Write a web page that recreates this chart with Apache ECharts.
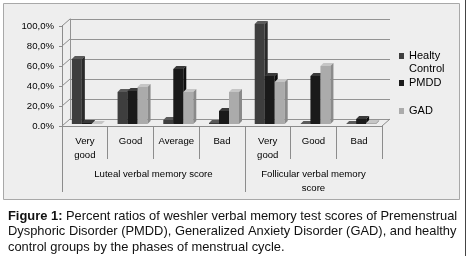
<!DOCTYPE html>
<html><head><meta charset="utf-8">
<script src="https://cdn.jsdelivr.net/npm/echarts@6/dist/echarts.min.js"></script>
<style>html,body{margin:0;padding:0;background:#fff}#c{width:467px;height:256px}</style>
</head><body><div id="c"></div>
<script>
// ---- data ----
var categories = ['Very\ngood', 'Good', 'Average', 'Bad', 'Very\ngood', 'Good', 'Bad'];
var groupLabels = ['Luteal verbal memory score', 'Follicular verbal memory\nscore'];
var groupCenters = [2, 5.5];
var groupBounds = [0, 4];
var seriesNames = ['Healty Control', 'PMDD', 'GAD'];
var legendLabels = ['Healty', 'PMDD', 'GAD'];
var healthyControl = [65, 32, 4, 1, 100, 0, 0];
var pmdd = [1, 33, 55, 13, 48, 48, 5];
var gad = [0, 37, 32, 32, 42, 58, 1];
var yTicks = [0, 20, 40, 60, 80, 100];
var yTickLabels = ['0.0%', '20,0%', '40,0%', '60,0%', '80,0%', '100,0%'];

// ---- styles ----
var FONT = 'Liberation Sans';
var AXIS_FS = 9.6;
var faceColors = [
  {front: '#3e3e3e', top: '#5a5a5a', side: '#2a2a2a'},
  {front: '#1a1a1a', top: '#3a3a3a', side: '#0e0e0e'},
  {front: '#ababab', top: '#c6c6c6', side: '#8a8a8a'}
];
var WALL_DX = 8, WALL_DY = -7;
var BAR_DX = 2, BAR_DY = -2, BAR_D = 3, BAR_W = 10;

var chart = echarts.init(document.getElementById('c'), null, {renderer: 'canvas'});

function barRender(sIdx) {
  return function (params, api) {
    var ci = api.value(0), v = api.value(1);
    var base = api.coord([ci, 0]);
    var top = api.coord([ci, v]);
    var x0 = base[0] - 1.5 * BAR_W + sIdx * BAR_W + BAR_DX;
    var yB = base[1] + BAR_DY, yT = top[1] + BAR_DY;
    var c = faceColors[sIdx];
    return {
      type: 'group',
      children: [
        {type: 'rect', shape: {x: x0, y: yT, width: BAR_W, height: Math.max(yB - yT, 0)}, style: {fill: c.front}},
        {type: 'polygon', shape: {points: [[x0, yT], [x0 + BAR_D, yT - BAR_D], [x0 + BAR_W + BAR_D, yT - BAR_D], [x0 + BAR_W, yT]]}, style: {fill: c.top}},
        {type: 'polygon', shape: {points: [[x0 + BAR_W, yT], [x0 + BAR_W + BAR_D, yT - BAR_D], [x0 + BAR_W + BAR_D, yB - BAR_D], [x0 + BAR_W, yB]]}, style: {fill: c.side}}
      ]
    };
  };
}

function seriesData(arr) { return arr.map(function (v, i) { return [i, v]; }); }

var wallData = yTicks.map(function (t) { return [0, t]; }).concat([[7, 0]]);

var valueSets = [healthyControl, pmdd, gad];
var barSeries = valueSets.map(function (arr, s) {
  return {
    type: 'custom', name: seriesNames[s], xAxisIndex: 0, yAxisIndex: 0,
    itemStyle: {color: faceColors[s].front},
    renderItem: barRender(s), data: seriesData(arr), z: 5 + s
  };
});

var legendTop = [50, 77, 105];
var legends = seriesNames.map(function (n, s) {
  return {
    data: [{name: n, icon: 'rect'}], left: 399, top: legendTop[s], orient: 'vertical',
    itemWidth: 5, itemHeight: 6, itemGap: 0, padding: 0,
    formatter: function (name) { return legendLabels[seriesNames.indexOf(name)]; },
    textStyle: {fontFamily: FONT, fontSize: 11, color: '#000', lineHeight: 12},
    selectedMode: false
  };
});

var option = {
  animation: false,
  backgroundColor: '#fff',
  textStyle: {fontFamily: FONT},
  graphic: [
    {type: 'rect', z: -10, shape: {x: 3.5, y: 3.5, width: 456, height: 196}, style: {fill: '#eeeeee', stroke: '#a8a8a8', lineWidth: 1}},
    {type: 'line', z: -10, shape: {x1: 465.5, y1: 0, x2: 465.5, y2: 256}, style: {stroke: '#444', lineWidth: 1}},
    {type: 'text', z: 10, x: 409, y: 63, style: {text: 'Control', font: '11px "Liberation Sans"', fill: '#000'}}
  ],
  title: {
    left: 8, top: 209, padding: 0,
    text: '{b|Figure 1:} Percent ratios of weshler verbal memory test scores of Premenstrual\nDysphoric Disorder (PMDD), Generalized Anxiety Disorder (GAD), and healthy\ncontrol groups by the phases of menstrual cycle.',
    textStyle: {
      fontFamily: FONT, fontSize: 12.9, fontWeight: 'normal', color: '#111', lineHeight: 15.3,
      rich: {b: {fontWeight: 'bold', fontSize: 12.9, fontFamily: FONT, color: '#111', lineHeight: 15.3}}
    }
  },
  legend: legends,
  grid: [
    {left: 62, top: 26, width: 320, height: 100},
    {left: 62 + WALL_DX, top: 26 + WALL_DY, width: 320, height: 100}
  ],
  xAxis: [
    {
      type: 'category', gridIndex: 0, data: categories, boundaryGap: true,
      axisLine: {lineStyle: {color: '#8c8c8c'}},
      axisTick: {show: true, interval: 0, length: 33, lineStyle: {color: '#8c8c8c'}},
      axisLabel: {interval: 0, margin: 8, fontSize: AXIS_FS, color: '#000', lineHeight: 14, fontFamily: FONT},
      splitLine: {show: false}
    },
    {
      type: 'value', gridIndex: 0, min: 0, max: 7, position: 'bottom', offset: 33,
      axisLine: {show: false},
      axisTick: {show: true, customValues: groupBounds, length: 33, lineStyle: {color: '#8c8c8c'}},
      axisLabel: {show: true, customValues: groupCenters, margin: 8, fontSize: AXIS_FS, color: '#000', lineHeight: 14,
        fontFamily: FONT,
        formatter: function (v) { var i = groupCenters.indexOf(v); return i >= 0 ? groupLabels[i] : ''; }},
      splitLine: {show: false}
    },
    {type: 'category', gridIndex: 1, data: categories, show: false}
  ],
  yAxis: [
    {
      type: 'value', gridIndex: 0, min: 0, max: 100, interval: 20,
      axisLine: {show: true, lineStyle: {color: '#8c8c8c'}},
      axisTick: {show: true, length: 3, lineStyle: {color: '#8c8c8c'}},
      axisLabel: {margin: 8, fontSize: AXIS_FS, color: '#000', fontFamily: FONT,
        formatter: function (v) { var i = yTicks.indexOf(v); return i >= 0 ? yTickLabels[i] : ''; }},
      splitLine: {show: false}
    },
    {
      type: 'value', gridIndex: 1, min: 0, max: 100, interval: 20,
      axisLine: {show: true, lineStyle: {color: '#939393'}},
      axisTick: {show: false}, axisLabel: {show: false},
      splitLine: {show: true, lineStyle: {color: '#939393', width: 1}}
    }
  ],
  series: [
    {
      type: 'custom', name: 'wall', xAxisIndex: 1, yAxisIndex: 0, silent: true, z: 1,
      renderItem: function (params, api) {
        var p = api.coord([api.value(0), api.value(1)]);
        return {type: 'line', shape: {x1: p[0], y1: p[1], x2: p[0] + WALL_DX, y2: p[1] + WALL_DY},
          style: {stroke: '#8c8c8c', lineWidth: 1}};
      },
      data: wallData
    }
  ].concat(barSeries)
};
chart.setOption(option);
</script></body></html>
